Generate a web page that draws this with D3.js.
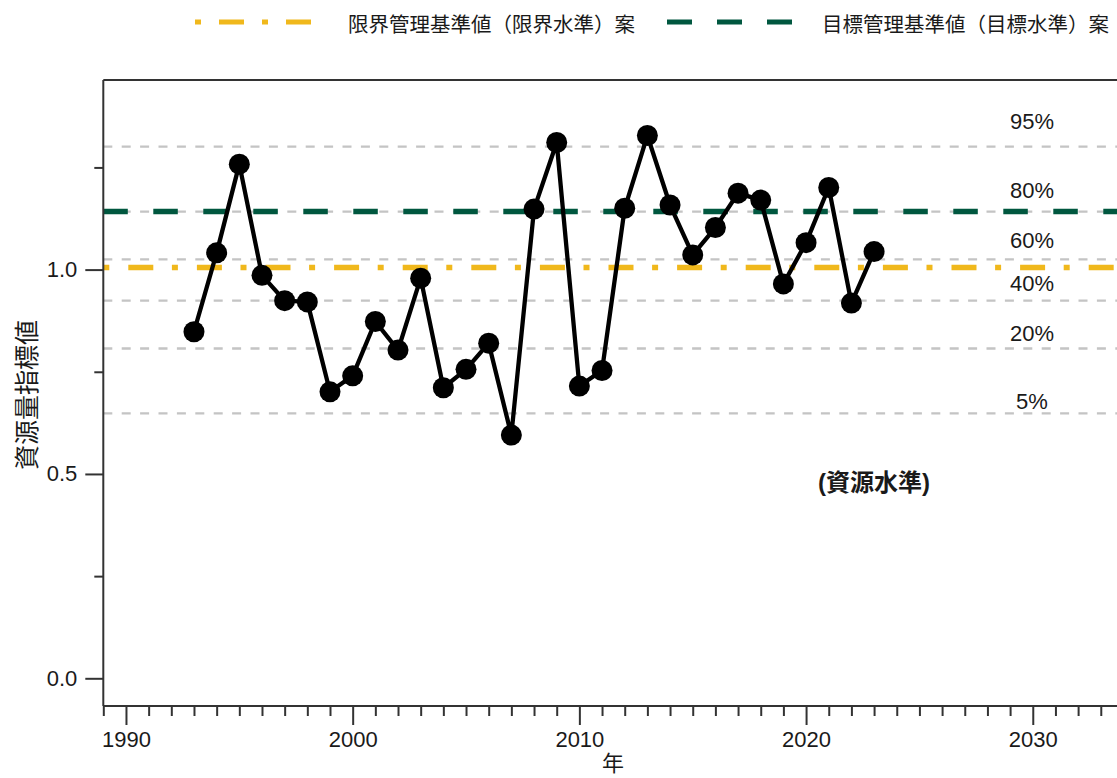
<!DOCTYPE html>
<html>
<head>
<meta charset="utf-8">
<script src="https://cdn.jsdelivr.net/npm/d3@7"></script>
<style>
  html, body { margin: 0; padding: 0; background: #fff; }
  svg { display: block; }
  text { font-family: "Liberation Sans", Arial, "Noto Sans CJK JP", sans-serif; fill: #1a1a1a; }
  .cjk { font-family: "Noto Sans CJK JP", "Noto Sans CJK SC", sans-serif; }
</style>
</head>
<body>
<svg id="chart" width="1117" height="778"></svg>
<script>
// ---- data ----
const years = [1993,1994,1995,1996,1997,1998,1999,2000,2001,2002,2003,2004,2005,2006,2007,2008,2009,2010,2011,2012,2013,2014,2015,2016,2017,2018,2019,2020,2021,2022,2023];
const index = [0.848,1.041,1.258,0.986,0.924,0.921,0.701,0.740,0.873,0.803,0.979,0.711,0.756,0.820,0.595,1.148,1.311,0.715,0.753,1.150,1.328,1.158,1.036,1.103,1.187,1.170,0.965,1.066,1.201,0.918,1.044];
const percentNames = ["95%","80%","60%","40%","20%","5%"];
const percentValues = [1.301,1.142,1.025,0.924,0.807,0.648];
const percentLabelValues = [1.343,1.175,1.053,0.948,0.826,0.659];
const limitRef = 1.005;   // 限界管理基準値
const targetRef = 1.142;  // 目標管理基準値
const yMajorTicks = [0, 0.5, 1.0];
const yMinorTicks = [0.25, 0.75, 1.25];
const xMajorTicks = [1990, 2000, 2010, 2020, 2030];
const legendLabels = ["限界管理基準値（限界水準）案", "目標管理基準値（目標水準）案"];
const yTitle = "資源量指標値";
const xTitle = "年";
const levelLabel = "(資源水準)";

// ---- layout ----
(function () {
const svg = d3.select("#chart");
const pLeft = 103.3, pTop = 80, pBottom = 706, pRight = 1117;
const x = d3.scaleLinear().domain([1989, 2034]).range([pLeft, pLeft + 45 * 22.67]);
const y = d3.scaleLinear().domain([0, 1]).range([678.3, 269.6]);

const YELLOW = "#F0B81C", GREEN = "#00573F", GRAY = "#c4c4c4", AXIS = "#333";

// percentile gray dashed lines
svg.append("g").selectAll("line").data(percentValues).join("line")
  .attr("x1", pLeft).attr("x2", pRight)
  .attr("y1", d => y(d)).attr("y2", d => y(d))
  .attr("stroke", GRAY).attr("stroke-width", 2.3)
  .attr("stroke-dasharray", "9,9.4");

// percentile labels
svg.append("g").selectAll("text").data(percentNames).join("text")
  .attr("x", 1032).attr("y", (d, i) => y(percentLabelValues[i]))
  .attr("text-anchor", "middle").attr("font-size", 22)
  .text(d => d);

// reference lines
svg.append("line")
  .attr("x1", pLeft).attr("x2", pRight)
  .attr("y1", y(targetRef)).attr("y2", y(targetRef))
  .attr("stroke", GREEN).attr("stroke-width", 5.5)
  .attr("stroke-dasharray", "24.5,25.5");
svg.append("line")
  .attr("x1", pLeft).attr("x2", pRight)
  .attr("y1", y(limitRef)).attr("y2", y(limitRef))
  .attr("stroke", YELLOW).attr("stroke-width", 5.5)
  .attr("stroke-dasharray", "6,19,25,18.6");

// series
const pts = years.map((yr, i) => [yr, index[i]]);
svg.append("path").datum(pts)
  .attr("fill", "none").attr("stroke", "#000").attr("stroke-width", 4.3)
  .attr("stroke-linejoin", "round")
  .attr("d", d3.line().x(d => x(d[0])).y(d => y(d[1])));
svg.append("g").selectAll("circle").data(pts).join("circle")
  .attr("cx", d => x(d[0])).attr("cy", d => y(d[1])).attr("r", 10.5)
  .attr("fill", "#000");

// axes frame
svg.append("line").attr("x1", pLeft).attr("x2", pRight).attr("y1", pTop).attr("y2", pTop)
  .attr("stroke", AXIS).attr("stroke-width", 2);

// y axis
const yMajor = svg.append("g").attr("transform", `translate(${pLeft},0)`)
  .call(d3.axisLeft(y).tickValues(yMajorTicks).tickSize(18).tickPadding(8).tickFormat(d3.format(".1f")));
const yMinor = svg.append("g").attr("transform", `translate(${pLeft},0)`)
  .call(d3.axisLeft(y).tickValues(yMinorTicks).tickSize(9).tickFormat(""));
[yMajor, yMinor].forEach(g => {
  g.select(".domain").remove();
  g.selectAll(".tick line").attr("stroke", AXIS).attr("stroke-width", 2);
  g.selectAll(".tick text").attr("font-size", 22).attr("font-family", "Liberation Sans, Arial, sans-serif").attr("fill", "#1a1a1a");
});
svg.append("line").attr("x1", pLeft).attr("x2", pLeft).attr("y1", pTop).attr("y2", pBottom)
  .attr("stroke", AXIS).attr("stroke-width", 2);

// x axis
const xMinorTicks = d3.range(1989, 2035).filter(v => !xMajorTicks.includes(v));
const xMajor = svg.append("g").attr("transform", `translate(0,${pBottom})`)
  .call(d3.axisBottom(x).tickValues(xMajorTicks).tickSize(19).tickPadding(6).tickFormat(d3.format("d")));
const xMinor = svg.append("g").attr("transform", `translate(0,${pBottom})`)
  .call(d3.axisBottom(x).tickValues(xMinorTicks).tickSize(10).tickFormat(""));
[xMajor, xMinor].forEach(g => {
  g.select(".domain").remove();
  g.selectAll(".tick line").attr("stroke", AXIS).attr("stroke-width", 2);
  g.selectAll(".tick text").attr("font-size", 22).attr("font-family", "Liberation Sans, Arial, sans-serif").attr("fill", "#1a1a1a");
});
svg.append("line").attr("x1", pLeft).attr("x2", pRight).attr("y1", pBottom).attr("y2", pBottom)
  .attr("stroke", AXIS).attr("stroke-width", 2);

// titles
svg.append("text").attr("class", "cjk")
  .attr("transform", "translate(25,395) rotate(-90)")
  .attr("text-anchor", "middle").attr("dominant-baseline", "central")
  .attr("font-size", 25).text(yTitle);
svg.append("text").attr("class", "cjk")
  .attr("x", 613).attr("y", 771)
  .attr("text-anchor", "middle")
  .attr("font-size", 22).text(xTitle);
svg.append("text")
  .attr("x", 874).attr("y", 482)
  .attr("text-anchor", "middle").attr("dominant-baseline", "central")
  .attr("font-size", 24).attr("font-weight", "bold").text(levelLabel);

// legend
const legend = svg.append("g");
legend.append("line").attr("x1", 195).attr("x2", 313).attr("y1", 22).attr("y2", 22)
  .attr("stroke", YELLOW).attr("stroke-width", 5)
  .attr("stroke-dasharray", "6,18,25,18");
legend.append("text").attr("class", "cjk").attr("x", 348).attr("y", 23)
  .attr("dominant-baseline", "central").attr("font-size", 20.5).attr("fill", "#333")
  .text(legendLabels[0]);
legend.append("line").attr("x1", 667).attr("x2", 792).attr("y1", 22).attr("y2", 22)
  .attr("stroke", GREEN).attr("stroke-width", 5)
  .attr("stroke-dasharray", "25,25");
legend.append("text").attr("class", "cjk").attr("x", 822).attr("y", 23)
  .attr("dominant-baseline", "central").attr("font-size", 20.5).attr("fill", "#333")
  .text(legendLabels[1]);
})();
</script>
</body>
</html>
